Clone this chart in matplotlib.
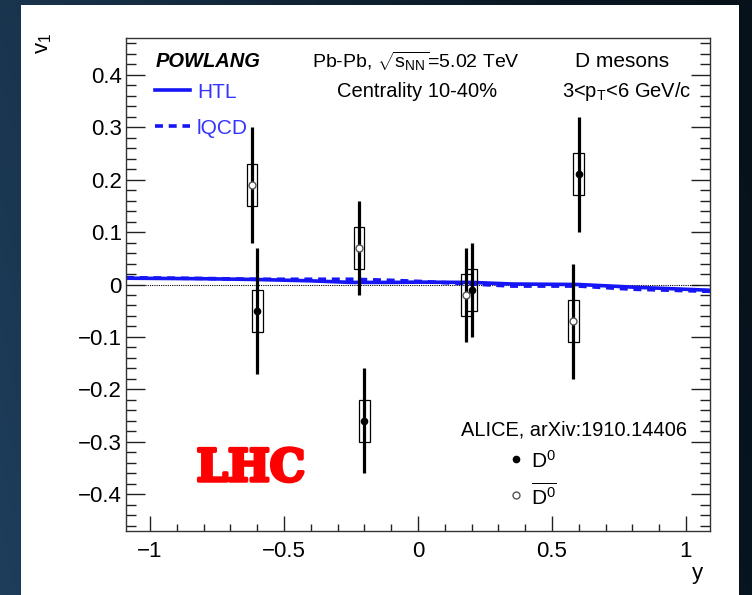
import numpy as np
import matplotlib
matplotlib.use("Agg")
import matplotlib.pyplot as plt
from matplotlib.lines import Line2D
from matplotlib.patches import Rectangle
import matplotlib.patheffects as pe
from matplotlib.ticker import MultipleLocator, FuncFormatter

# ALICE D0 and anti-D0 directed flow v1 versus rapidity
y_d0 = [-0.60, -0.20, 0.20, 0.60]
v1_d0 = [-0.05, -0.26, -0.01, 0.21]
stat_d0 = [0.12, 0.10, 0.09, 0.11]
syst_d0 = [0.04, 0.04, 0.04, 0.04]

y_d0bar = [-0.62, -0.22, 0.18, 0.58]
v1_d0bar = [0.19, 0.07, -0.02, -0.07]
stat_d0bar = [0.11, 0.09, 0.09, 0.11]
syst_d0bar = [0.04, 0.04, 0.04, 0.04]

# POWLANG transport predictions (HTL and lattice-QCD transport coefficients)
y_model = [-1.09, -0.8, -0.6, -0.4, -0.25, -0.1, 0.0, 0.2, 0.35, 0.6, 0.8, 1.09]
v1_htl = [0.012, 0.011, 0.0095, 0.007, 0.004, 0.004, 0.0045, 0.004, 0.001, 0.0, -0.005, -0.011]
v1_lqcd = [0.013, 0.0115, 0.010, 0.010, 0.010, 0.008, 0.006, 0.001, -0.003, -0.003, -0.009, -0.013]

plt.rcParams['font.family'] = ['Liberation Sans', 'DejaVu Sans']
plt.rcParams['mathtext.fontset'] = 'custom'
plt.rcParams['mathtext.rm'] = 'Liberation Sans'
plt.rcParams['mathtext.it'] = 'Liberation Sans:italic'
plt.rcParams['mathtext.bf'] = 'Liberation Sans:bold'

W, H = 752, 595
fig = plt.figure(figsize=(W / 100, H / 100), dpi=100)


def fx(px):
    return px / W


def fy(py):
    return 1 - py / H


# slide background: dark blue gradient with a white panel
bg = fig.add_axes([0, 0, 1, 1])
gx = np.linspace(0, 1, 200)[None, :, None]
gy = np.linspace(0, 1, 150)[:, None, None]
left_c = np.array([30, 62, 92]) / 255
right_c = np.array([8, 20, 30]) / 255
grad = left_c * (1 - gx) ** 1.3 + right_c * (1 - (1 - gx) ** 1.3)
grad = grad * (0.85 + 0.15 * gy)
bg.imshow(grad, extent=[0, 1, 0, 1], aspect='auto', origin='upper')
bg.add_patch(Rectangle((fx(21), 0), fx(739) - fx(21), fy(5), color='white', lw=0))
bg.set_xlim(0, 1)
bg.set_ylim(0, 1)
bg.axis('off')

ax = fig.add_axes([fx(126), fy(531), fx(710) - fx(126), fy(38) - fy(531)])
ax.set_xlim(-1.09, 1.09)
ax.set_ylim(-0.47, 0.47)
for s in ax.spines.values():
    s.set_color('#333333')
    s.set_linewidth(1.0)

ax.xaxis.set_major_locator(MultipleLocator(0.5))
ax.xaxis.set_minor_locator(MultipleLocator(0.1))
ax.yaxis.set_major_locator(MultipleLocator(0.1))
ax.yaxis.set_minor_locator(MultipleLocator(0.02))


def fmt(v, pos):
    if abs(v) < 1e-9:
        return '0'
    return ('%g' % round(v, 3)).replace('-', '\u2212')


ax.xaxis.set_major_formatter(FuncFormatter(fmt))
ax.yaxis.set_major_formatter(FuncFormatter(fmt))
ax.tick_params(which='both', direction='in', top=False, right=True,
               labelsize=16, color='#222222')
ax.tick_params(axis='y', which='major', length=13.7, width=1, pad=3)
ax.tick_params(axis='y', which='minor', length=7.2, width=1)
ax.tick_params(axis='x', which='major', length=10.8, width=1, pad=7)
ax.tick_params(axis='x', which='minor', length=5.0, width=1)

# zero reference
ax.axhline(0, xmin=0.032, xmax=0.982, color='black', lw=0.8, ls=(0, (1, 1)))

# model curves
blue = '#1515f5'
ax.plot(y_model, v1_htl, color=blue, lw=2.6, solid_capstyle='butt')
ax.plot(y_model, v1_lqcd, color=blue, lw=2.6, ls=(0, (2.2, 1.6)))

# systematic boxes
ax.bar(y_d0bar, 2 * np.array(syst_d0bar), bottom=np.array(v1_d0bar) - np.array(syst_d0bar),
       width=0.04, fill=False, edgecolor='black', lw=0.9, zorder=3)
ax.bar(y_d0, 2 * np.array(syst_d0), bottom=np.array(v1_d0) - np.array(syst_d0),
       width=0.04, fill=False, edgecolor='black', lw=0.9, zorder=3)
# statistical errors
ax.errorbar(y_d0bar, v1_d0bar, yerr=stat_d0bar, fmt='none', ecolor='black',
            elinewidth=2.3, capsize=0, zorder=4)
ax.errorbar(y_d0, v1_d0, yerr=stat_d0, fmt='none', ecolor='black',
            elinewidth=2.3, capsize=0, zorder=4)
ax.plot(y_d0bar, v1_d0bar, 'o', ms=5, mfc='white', mec='#555555', mew=1.0,
        ls='none', zorder=5)
ax.plot(y_d0, v1_d0, 'o', ms=4.5, color='black', ls='none', zorder=5)

# axis titles
fig.text(fx(43), fy(33), r'v$_{1}$', rotation=90, ha='center', va='top', fontsize=16)
fig.text(fx(703), fy(579), 'y', ha='right', va='baseline', fontsize=16)

# model legend
fig.text(fx(156), fy(67), 'POWLANG', fontweight='bold', style='italic',
         fontsize=14.5, va='baseline')
txtblue = '#3535ff'
fig.add_artist(Line2D([fx(155), fx(190)], [fy(90), fy(90)], color=blue, lw=2.6))
fig.text(fx(197), fy(98), 'HTL', color=txtblue, fontsize=15, va='baseline')
fig.add_artist(Line2D([fx(155), fx(190)], [fy(126), fy(126)], color=blue, lw=2.6,
                      ls=(0, (2.2, 1.6))))
fig.text(fx(197), fy(134), 'lQCD', color=txtblue, fontsize=15, va='baseline')

# collision system labels
fig.text(fx(416), fy(68), r'Pb-Pb, $\sqrt{\mathrm{s}_{\mathrm{NN}}}$=5.02 TeV',
         ha='center', va='baseline', fontsize=14)
fig.text(fx(417), fy(97), 'Centrality 10-40%', ha='center', va='baseline', fontsize=14.5)
fig.text(fx(622), fy(67), 'D mesons', ha='center', va='baseline', fontsize=15)
fig.text(fx(627), fy(97), r'3<p$_{\mathrm{T}}$<6 GeV/c', ha='center', va='baseline',
         fontsize=14.5)

# data legend
fig.text(fx(687), fy(435), 'ALICE, arXiv:1910.14406', ha='right', va='baseline',
         fontsize=14.4)
fig.add_artist(Line2D([fx(516)], [fy(459)], marker='o', ms=4.5, color='black', ls='none'))
fig.text(fx(531), fy(468), r'D$^{0}$', va='baseline', fontsize=15)
fig.add_artist(Line2D([fx(516)], [fy(495)], marker='o', ms=5, mfc='white',
                      mec='#555555', mew=1.0, ls='none'))
fig.text(fx(531), fy(505), r'$\overline{\mathrm{D}^{0}}$', va='baseline', fontsize=15)

# slide tag
fig.text(fx(251), fy(481), 'LHC', color='red', ha='center', va='baseline',
         fontsize=32, fontweight='bold', family=['DejaVu Serif'],
         path_effects=[pe.Stroke(linewidth=2.5, foreground='red'), pe.Normal()])

fig.savefig('out.png', dpi=100)
